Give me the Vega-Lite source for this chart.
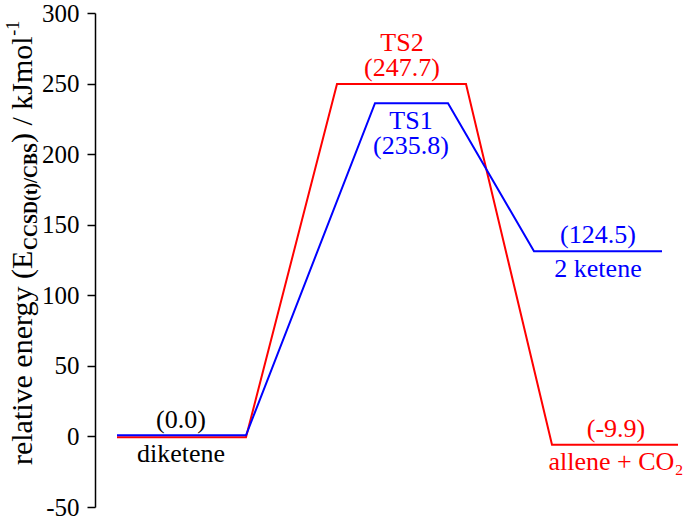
{
  "$schema": "https://vega.github.io/schema/vega-lite/v6.json",
  "width": 590,
  "height": 494,
  "autosize": {"type": "none"},
  "padding": {"left": 95, "top": 13, "right": 0, "bottom": 10},
  "background": "white",
  "config": {"font": "serif", "view": {"stroke": null}},
  "datasets": {
    "paths": [
      {"s": "TS2 path", "x": 22, "e": -0.6},
      {"s": "TS2 path", "x": 151, "e": -0.6},
      {"s": "TS2 path", "x": 242, "e": 249.7},
      {"s": "TS2 path", "x": 371, "e": 249.7},
      {"s": "TS2 path", "x": 457, "e": -5.9},
      {"s": "TS2 path", "x": 583, "e": -5.9},
      {"s": "TS1 path", "x": 22, "e": 0.8},
      {"s": "TS1 path", "x": 151, "e": 0.8},
      {"s": "TS1 path", "x": 280, "e": 236.1},
      {"s": "TS1 path", "x": 353, "e": 236.1},
      {"s": "TS1 path", "x": 439, "e": 131.2},
      {"s": "TS1 path", "x": 567, "e": 131.2}
    ],
    "labels": [
      {"x": 86, "e": 0, "above": "(0.0)", "above2": "", "below": "diketene", "c": "black"},
      {"x": 307, "e": 249.7, "above": "(247.7)", "above2": "TS2", "below": "", "c": "#ff0000"},
      {"x": 316, "e": 236.1, "above": "", "above2": "", "below": "TS1\n(235.8)", "c": "#0000ff"},
      {"x": 503, "e": 131.2, "above": "(124.5)", "above2": "", "below": "2 ketene", "c": "#0000ff"},
      {"x": 521, "e": -5.9, "above": "(-9.9)", "above2": "", "below": "allene + CO₂", "c": "#ff0000"}
    ],
    "titleMain": [
      {"x": -63, "e": -20.3, "t": "relative energy (E"},
      {"x": -63, "e": 207.9, "t": ") / kJmol"}
    ],
    "titleSub": [
      {"x": -58, "e": 132.1, "t": "CCSD(t)/CBS"}
    ],
    "titleSup": [
      {"x": -76, "e": 283.8, "t": "-1"}
    ]
  },
  "encoding": {
    "x": {"field": "x", "type": "quantitative", "scale": {"domain": [0, 590]}, "axis": null},
    "y": {
      "field": "e",
      "type": "quantitative",
      "scale": {"domain": [-50, 300]},
      "axis": {
        "title": null,
        "values": [-50, 0, 50, 100, 150, 200, 250, 300],
        "labelExpr": "'' + datum.value",
        "labelFont": "serif",
        "labelFontSize": 25,
        "labelColor": "black",
        "tickColor": "black",
        "domainColor": "black",
        "tickSize": 8,
        "tickWidth": 1.5,
        "domainWidth": 1.5,
        "labelPadding": 8,
        "grid": false,
        "labelFlush": false,
        "labelOverlap": false
      }
    }
  },
  "layer": [
    {
      "data": {"name": "paths"},
      "mark": {"type": "line", "strokeWidth": 2},
      "encoding": {
        "color": {"field": "s", "type": "nominal", "scale": {"domain": ["TS2 path", "TS1 path"], "range": ["#ff0000", "#0000ff"]}, "legend": null}
      }
    },
    {
      "data": {"name": "labels"},
      "mark": {"type": "text", "baseline": "bottom", "align": "center", "dy": -3, "fontSize": 26, "font": "serif"},
      "encoding": {"text": {"field": "above"}, "color": {"field": "c", "type": "nominal", "scale": null}}
    },
    {
      "data": {"name": "labels"},
      "mark": {"type": "text", "baseline": "bottom", "align": "center", "dy": -28, "fontSize": 26, "font": "serif"},
      "encoding": {"text": {"field": "above2"}, "color": {"field": "c", "type": "nominal", "scale": null}}
    },
    {
      "data": {"name": "labels"},
      "mark": {"type": "text", "baseline": "top", "align": "center", "dy": 4.5, "fontSize": 26, "lineBreak": "\n", "lineHeight": 25, "font": "serif"},
      "encoding": {"text": {"field": "below"}, "color": {"field": "c", "type": "nominal", "scale": null}}
    },
    {
      "data": {"name": "titleMain"},
      "mark": {"type": "text", "angle": 270, "align": "left", "baseline": "alphabetic", "fontSize": 30, "color": "black", "font": "serif"},
      "encoding": {"text": {"field": "t"}}
    },
    {
      "data": {"name": "titleSub"},
      "mark": {"type": "text", "angle": 270, "align": "left", "baseline": "alphabetic", "fontSize": 18, "fontWeight": "bold", "color": "black", "font": "serif"},
      "encoding": {"text": {"field": "t"}}
    },
    {
      "data": {"name": "titleSup"},
      "mark": {"type": "text", "angle": 270, "align": "left", "baseline": "alphabetic", "fontSize": 18, "color": "black", "font": "serif"},
      "encoding": {"text": {"field": "t"}}
    }
  ]
}
